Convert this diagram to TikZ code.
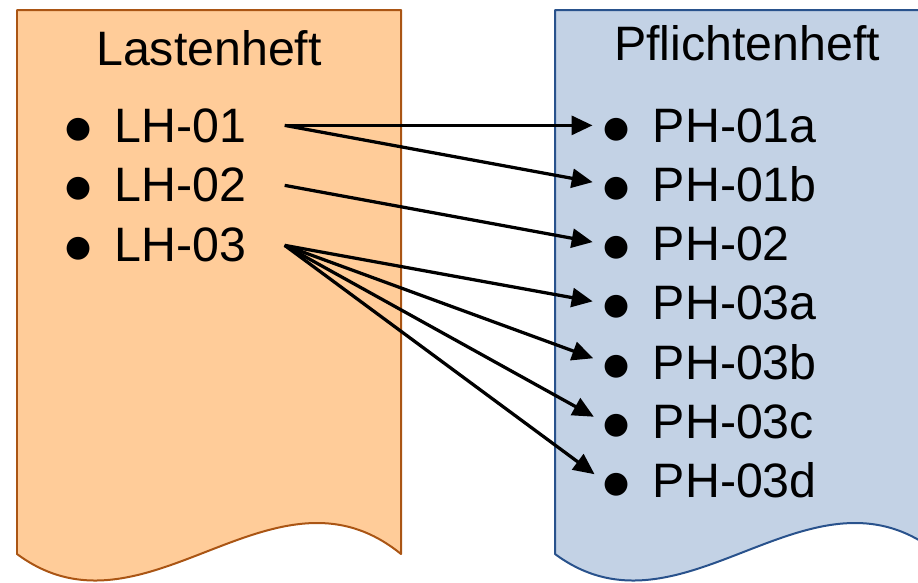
\documentclass[tikz,border=0pt]{standalone}
\usepackage{fontspec}
\setmainfont{Liberation Sans}
\newfontfamily\symbolschrift{DejaVu Sans}
\usetikzlibrary{positioning,arrows.meta}

\definecolor{lhfill}{RGB}{255,204,153}
\definecolor{lhdraw}{RGB}{170,85,20}
\definecolor{phfill}{RGB}{195,210,229}
\definecolor{phdraw}{RGB}{41,82,140}

% list bullet in front of each entry
\newcommand{\punkt}{\raisebox{0.1cm}{\symbolschrift\fontsize{17}{20}\selectfont ●}\hspace{0.47cm}}

\begin{document}
\begin{tikzpicture}[x=0.02cm, y=-0.02cm,
  heft/.style={line width=0.04cm, line join=round},
  titel/.style={anchor=base, inner sep=0pt, font=\fontsize{27.5}{33}\selectfont},
  lhitem/.style={anchor=base west, inner sep=0pt, text width=4.38cm, font=\fontsize{27.5}{33}\selectfont},
  phitem/.style={anchor=base west, inner sep=0pt, font=\fontsize{27.5}{33}\selectfont},
  pfeil/.style={-{Triangle[length=0.42cm, width=0.38cm]}, line width=0.065cm, shorten >=0.21cm}]

\useasboundingbox (0,0) rectangle (918,582);

% Lastenheft sheet with wavy bottom edge
\draw[heft, draw=lhdraw, fill=lhfill] (17,10) -- (401,10) -- (401,554) .. controls (273,450) and (145,649) .. (17,554) -- cycle;

% Pflichtenheft sheet, runs off the right edge
\draw[heft, draw=phdraw, fill=phfill] (555,10) -- (939,10) -- (939,554) .. controls (811,450) and (683,649) .. (555,554) -- cycle;

% Sheet titles
\node (lasten) [titel] at (209,65) {Lastenheft};
\node (pflicht) [titel] at (747,60) {Pflichtenheft};

% Requirements in the Lastenheft
\node (lh1) [lhitem] at (65,142) {\punkt LH-01};
\node (lh2) [lhitem, below=1.2cm of lh1.base west, anchor=base west] {\punkt LH-02};
\node (lh3) [lhitem, below=1.2cm of lh2.base west, anchor=base west] {\punkt LH-03};

% Refined requirements in the Pflichtenheft
\node (ph1a) [phitem] at (603,142) {\punkt PH-01a};
\node (ph1b) [phitem, below=1.186cm of ph1a.base west, anchor=base west] {\punkt PH-01b};
\node (ph2) [phitem, below=1.186cm of ph1b.base west, anchor=base west] {\punkt PH-02};
\node (ph3a) [phitem, below=1.186cm of ph2.base west, anchor=base west] {\punkt PH-03a};
\node (ph3b) [phitem, below=1.186cm of ph3a.base west, anchor=base west] {\punkt PH-03b};
\node (ph3c) [phitem, below=1.186cm of ph3b.base west, anchor=base west] {\punkt PH-03c};
\node (ph3d) [phitem, below=1.186cm of ph3c.base west, anchor=base west] {\punkt PH-03d};

% Arrows
\draw[pfeil] (lh1.east) -- (ph1a.west);
\draw[pfeil] (lh1.east) -- (ph1b.west);
\draw[pfeil] (lh2.east) -- (ph2.west);
\draw[pfeil] (lh3.east) -- (ph3a.west);
\draw[pfeil] (lh3.east) -- (ph3b.west);
\draw[pfeil] (lh3.east) -- (ph3c.west);
\draw[pfeil] (lh3.east) -- (ph3d.west);

\end{tikzpicture}
\end{document}
